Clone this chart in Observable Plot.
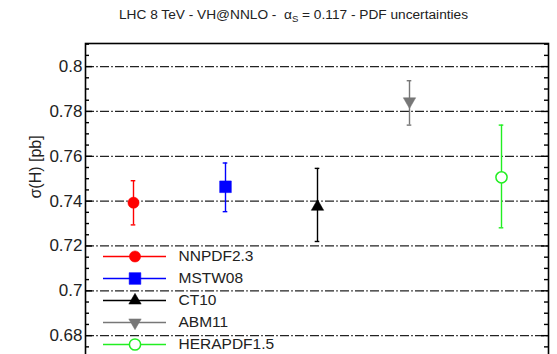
<!DOCTYPE html>
<html>
<head>
<meta charset="utf-8">
<script src="https://cdn.jsdelivr.net/npm/d3@7"></script>
<script src="https://cdn.jsdelivr.net/npm/@observablehq/plot@0.6"></script>
<style>
  html, body { margin: 0; padding: 0; background: #fff; overflow: hidden; }
  #wrap { position: relative; width: 557px; height: 354px; overflow: hidden; font-family: "Liberation Sans", Arial, sans-serif; }
  #title { position: absolute; left: 119px; top: 7px; font-size: 13.7px; line-height: 16px; color: #222; white-space: nowrap; }
  #title sub { font-size: 9.5px; vertical-align: -3px; line-height: 0; }
  #chart { position: absolute; left: 0; top: 30px; }
  #legend { position: absolute; left: 103px; top: 244px; }
  svg { background: transparent !important; }
</style>
</head>
<body>
<div id="wrap">
  <div id="title">LHC 8 TeV - VH@NNLO -&nbsp; α<sub>S</sub> = 0.117 - PDF uncertainties</div>
  <div id="chart"></div>
  <div id="legend"></div>
</div>
<script>
// ---- data ----
const pdfSets = ["NNPDF2.3", "MSTW08", "CT10", "ABM11", "HERAPDF1.5"];
const central = [0.7393, 0.7464, 0.7375, 0.7845, 0.7506];
const errLow  = [0.7294, 0.7353, 0.7220, 0.7739, 0.7281];
const errHigh = [0.7491, 0.7570, 0.7546, 0.7937, 0.7739];
const colors  = ["#ff0000", "#0000ff", "#000000", "#777777", "#22ee22"];
const symbols = ["circle", "square", "triangle", "triangle", "circle"];
const rotations = [0, 0, 0, 180, 0];
const fills = ["#ff0000", "#0000ff", "#000000", "#777777", "#ffffff"];
const sizes = [5.6, 6.6, 4.6, 4.6, 5.6];
const majorTicks = [0.68, 0.70, 0.72, 0.74, 0.76, 0.78, 0.80];
const minorTicks = [0.665, 0.67, 0.675, 0.685, 0.69, 0.695, 0.705, 0.71, 0.715,
  0.725, 0.73, 0.735, 0.745, 0.75, 0.755, 0.765, 0.77, 0.775, 0.785, 0.79, 0.795, 0.805, 0.81];
const yLabel = "σ(H) [pb]";

const data = pdfSets.map((name, i) => ({
  name, value: central[i], low: errLow[i], high: errHigh[i],
  color: colors[i], symbol: symbols[i], rotate: rotations[i], fill: fills[i], r: sizes[i]
}));

const W = 557, ML = 85, MR = 9;
const frameW = W - ML - MR;
const fmt = d => String(+d.toFixed(2));

const marks = [
  Plot.ruleY(majorTicks, {y: d => d, stroke: "#222", strokeWidth: 1.2, strokeDasharray: "9,2.2,1.6,2.2"}),
  // inward tick marks
  Plot.ruleY(majorTicks, {y: d => d, stroke: "#000", strokeWidth: 1.4, insetRight: frameW - 7}),
  Plot.ruleY(majorTicks, {y: d => d, stroke: "#000", strokeWidth: 1.4, insetLeft: frameW - 7}),
  Plot.ruleY(minorTicks, {y: d => d, stroke: "#000", strokeWidth: 1.4, insetRight: frameW - 4}),
  Plot.ruleY(minorTicks, {y: d => d, stroke: "#000", strokeWidth: 1.4, insetLeft: frameW - 4}),
  Plot.axisY({ticks: majorTicks, tickSize: 0, tickPadding: 3, tickFormat: fmt, fontSize: 17, label: null}),
  Plot.text([yLabel], {frameAnchor: "left", rotate: -90, dx: -50, dy: -13.5, fontSize: 16, fill: "#222"}),
  // error bars
  Plot.ruleX(data, {x: "name", y1: "low", y2: "high", stroke: "color", strokeWidth: 1.4}),
  Plot.tickY(data, {x: "name", y: "low", stroke: "color", strokeWidth: 1.4, insetLeft: frameW / 10 - 2.6, insetRight: frameW / 10 - 2.6}),
  Plot.tickY(data, {x: "name", y: "high", stroke: "color", strokeWidth: 1.4, insetLeft: frameW / 10 - 2.6, insetRight: frameW / 10 - 2.6}),
];
data.forEach(d => {
  marks.push(Plot.dot([d], {x: "name", y: "value", symbol: d.symbol, r: d.r, fill: d.fill,
    stroke: d.color, strokeWidth: d.name === "HERAPDF1.5" ? 1.5 : 0.5, rotate: d.rotate}));
});
marks.push(Plot.frame({stroke: "#000", strokeWidth: 1.6}));

const chart = Plot.plot({
  width: W, height: 360,
  marginLeft: ML, marginRight: MR, marginTop: 13, marginBottom: 10,
  style: {fontFamily: "Liberation Sans, Arial, sans-serif", background: "transparent", color: "#222"},
  x: {type: "band", domain: pdfSets, padding: 0, axis: null},
  y: {domain: [0.66, 0.8103], axis: null},
  color: {type: "identity"},
  marks
});
document.getElementById("chart").appendChild(chart);

// ---- legend ----
const legMarks = [
  Plot.ruleY(data, {y: "name", stroke: "color", strokeWidth: 1.5}),
  Plot.text(data, {x: () => 1, y: "name", text: "name", dx: 12, textAnchor: "start", fontSize: 15.5, fill: "#222"})
];
data.forEach(d => {
  legMarks.push(Plot.dot([d], {x: () => 0.5, y: "name", symbol: d.symbol, r: d.r, fill: d.fill,
    stroke: d.color, strokeWidth: d.name === "HERAPDF1.5" ? 1.5 : 0.5, rotate: d.rotate}));
});
const legend = Plot.plot({
  width: 200, height: 112,
  marginLeft: 0, marginRight: 137, marginTop: 11.7, marginBottom: 12.3,
  style: {fontFamily: "Liberation Sans, Arial, sans-serif", background: "transparent", overflow: "visible"},
  x: {domain: [0, 1], axis: null},
  y: {type: "point", domain: pdfSets, padding: 0, axis: null},
  color: {type: "identity"},
  marks: legMarks
});
document.getElementById("legend").appendChild(legend);
</script>
</body>
</html>
